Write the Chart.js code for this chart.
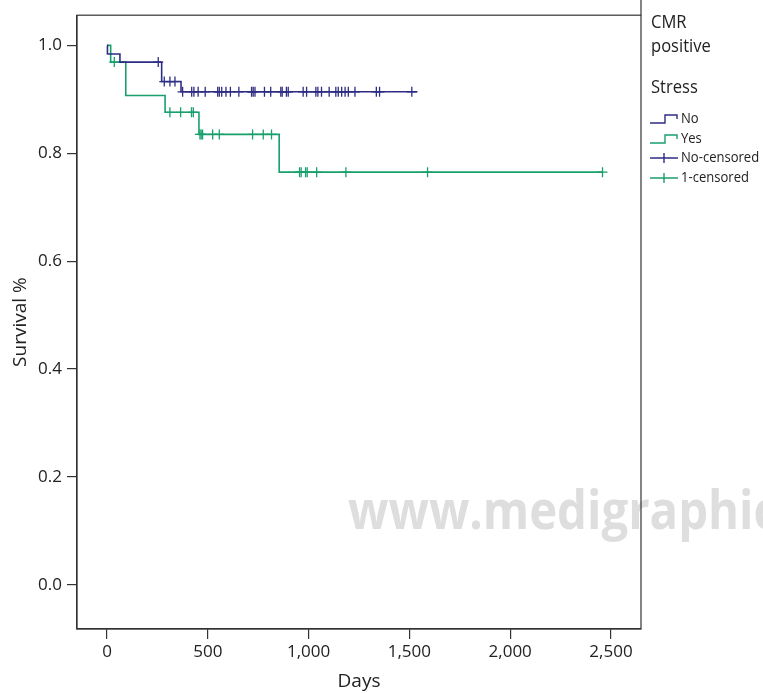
<!DOCTYPE html>
<html>
<head>
<meta charset="utf-8">
<script src="https://cdn.jsdelivr.net/npm/chart.js@4.4.1/dist/chart.umd.min.js"></script>
<style>
  html, body { margin: 0; padding: 0; background: #fff; }
  #wrap { width: 763px; height: 693px; position: relative; }
</style>
</head>
<body>
<div id="wrap"><canvas id="myChart" width="763" height="693"></canvas></div>
<script>
// Kaplan-Meier steps (days, survival)
const noTimes = [0, 2, 64, 271, 367, 1540];
const noSurv = [1.0, 0.984, 0.969, 0.933, 0.914, 0.914];
const noCensored = [254, 284, 312, 337, 375, 420, 431, 452, 487, 549, 557, 569, 590, 612, 654,
  717, 725, 734, 781, 812, 862, 869, 890, 899, 973, 990, 1036, 1046, 1064, 1102, 1135, 1147,
  1164, 1181, 1197, 1230, 1336, 1352, 1512];

const yesTimes = [0, 18, 93, 288, 456, 854, 2458];
const yesSurv = [1.0, 0.969, 0.907, 0.876, 0.835, 0.765, 0.765];
const yesCensored = [36, 312, 365, 419, 428, 461, 467, 474, 524, 557, 722, 775, 816, 955, 963,
  985, 993, 1040, 1185, 1590, 2458];

const xTicks = [0, 500, 1000, 1500, 2000, 2500];
const yTicks = [0, 0.2, 0.4, 0.6, 0.8, 1.0];

const legendItems = ['No', 'Yes', 'No-censored', '1-censored'];

const BLUE = '#2e2d84';
const GREEN = '#17a06c';
const FONT = "'Open Sans', 'DejaVu Sans', sans-serif";

// survival level in effect at day t
const levelAt = (times, surv, t) => {
  let s = surv[0];
  for (let i = 0; i < times.length; i++) {
    if (times[i] <= t) s = surv[i];
  }
  return s;
};

const curve = (times, surv) => times.map((t, i) => ({x: t, y: surv[i]}));
const marks = (cens, times, surv) => cens.map(t => ({x: t, y: levelAt(times, surv, t)}));

// condensed text, the original face is narrower than Open Sans
const narrowText = (ctx, txt, x, y, sx) => {
  ctx.save();
  ctx.translate(x, y);
  ctx.scale(sx, 1);
  ctx.fillText(txt, 0, 0);
  ctx.restore();
};

const framePlugin = {
  id: 'frame',
  beforeDatasetsDraw(chart) {
    const ctx = chart.ctx;
    ctx.save();
    ctx.fillStyle = '#dedede';
    ctx.font = "bold 54px " + FONT;
    ctx.textBaseline = 'alphabetic';
    narrowText(ctx, 'www.medigraphic', 348, 529, 0.875);
    ctx.restore();
  },
  afterDraw(chart) {
    const {ctx, chartArea: a} = chart;
    ctx.save();
    ctx.strokeStyle = '#333';
    ctx.lineWidth = 1.2;
    ctx.strokeRect(a.left, a.top, a.right - a.left, a.bottom - a.top);

    // legend panel edge, continues the right frame line up to the top
    ctx.beginPath();
    ctx.moveTo(a.right, 0);
    ctx.lineTo(a.right, a.top);
    ctx.stroke();

    ctx.fillStyle = '#222';
    ctx.textBaseline = 'middle';
    ctx.font = "18px " + FONT;
    narrowText(ctx, 'CMR', 651, 23, 0.92);
    narrowText(ctx, 'positive', 651, 47, 0.92);
    narrowText(ctx, 'Stress', 651, 88, 0.92);

    ctx.font = "15px " + FONT;
    const rows = [119, 139, 158, 178];
    ctx.lineWidth = 1.4;
    rows.forEach((y, i) => {
      const col = (i % 2 === 0) ? BLUE : GREEN;
      ctx.strokeStyle = col;
      ctx.beginPath();
      if (i < 2) {
        ctx.moveTo(650, y + 4);
        ctx.lineTo(665, y + 4);
        ctx.lineTo(665, y - 4);
        ctx.lineTo(677, y - 4);
        ctx.lineTo(677, y);
      } else {
        ctx.moveTo(650, y);
        ctx.lineTo(678, y);
        ctx.moveTo(664, y - 5);
        ctx.lineTo(664, y + 5);
      }
      ctx.stroke();
      ctx.fillStyle = '#222';
      narrowText(ctx, legendItems[i], 681, y, 0.87);
    });
    ctx.restore();
  }
};

const config = {
  type: 'scatter',
  data: {
    datasets: [
      {
        label: 'No',
        data: curve(noTimes, noSurv),
        showLine: true,
        stepped: 'before',
        borderColor: BLUE,
        borderWidth: 1.6,
        pointRadius: 0,
        fill: false
      },
      {
        label: 'Yes',
        data: curve(yesTimes, yesSurv),
        showLine: true,
        stepped: 'before',
        borderColor: GREEN,
        borderWidth: 1.6,
        pointRadius: 0,
        fill: false
      },
      {
        label: 'No-censored',
        data: marks(noCensored, noTimes, noSurv),
        pointStyle: 'cross',
        pointRadius: 5,
        borderColor: BLUE,
        borderWidth: 1.3
      },
      {
        label: '1-censored',
        data: marks(yesCensored, yesTimes, yesSurv),
        pointStyle: 'cross',
        pointRadius: 5,
        borderColor: GREEN,
        borderWidth: 1.3
      }
    ]
  },
  options: {
    responsive: false,
    animation: false,
    layout: { padding: { top: 14, right: 122, left: 0, bottom: 0 } },
    plugins: {
      legend: { display: false },
      tooltip: { enabled: false }
    },
    scales: {
      x: {
        type: 'linear',
        min: -149,
        max: 2649,
        afterBuildTicks: (scale) => { scale.ticks = xTicks.map(v => ({value: v})); },
        afterFit: (scale) => { scale.height = 64; },
        grid: { drawOnChartArea: false, drawTicks: true, tickLength: 10, color: '#333', lineWidth: 1.2 },
        border: { display: true, color: '#333', width: 1.2 },
        ticks: {
          color: '#222',
          padding: 3,
          maxRotation: 0,
          font: { family: FONT, size: 17 },
          callback: (v) => v.toLocaleString('en-US')
        },
        title: {
          display: true,
          text: 'Days',
          color: '#222',
          font: { family: FONT, size: 19 },
          padding: { top: 0, bottom: 0 }
        }
      },
      y: {
        type: 'linear',
        min: -0.082,
        max: 1.056,
        afterBuildTicks: (scale) => { scale.ticks = yTicks.map(v => ({value: v})); },
        afterFit: (scale) => { scale.width = 77; },
        grid: { drawOnChartArea: false, drawTicks: true, tickLength: 10, color: '#333', lineWidth: 1.2 },
        border: { display: true, color: '#333', width: 1.2 },
        ticks: {
          color: '#222',
          padding: 5,
          font: { family: FONT, size: 17 },
          callback: (v) => v.toFixed(1)
        },
        title: {
          display: true,
          text: 'Survival %',
          color: '#222',
          font: { family: FONT, size: 19 },
          padding: { top: 9, bottom: 0 }
        }
      }
    }
  },
  plugins: [framePlugin]
};

const myChart = new Chart(document.getElementById('myChart'), config);
</script>
</body>
</html>
